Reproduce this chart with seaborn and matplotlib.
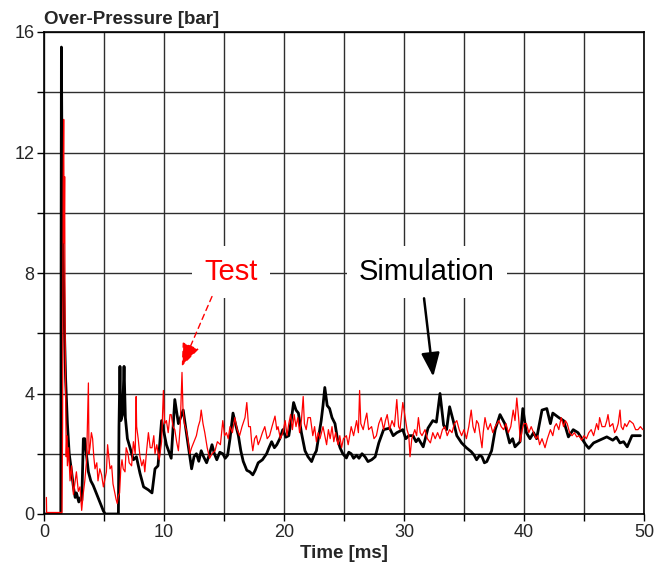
import matplotlib
matplotlib.use("Agg")
import matplotlib.pyplot as plt
import seaborn as sns
import pandas as pd
from matplotlib.ticker import MultipleLocator

# ---------------- data ----------------
sim_t = [0, 1.40, 1.45, 1.50, 1.60, 1.72, 1.80, 1.95, 2.10, 2.30, 2.45, 2.60, 2.70, 2.90, 3.05, 3.15,
         3.28, 3.40, 3.50, 3.70, 3.90, 4.10, 4.30, 4.50, 4.75, 4.95, 5.10, 6.20, 6.25, 6.33, 6.40, 6.55,
         6.67, 6.78, 6.95, 7.17, 7.45, 7.70, 8.00, 8.30, 8.70, 9.00, 9.25, 9.50, 9.80, 10.20, 10.60,
         10.90, 11.20, 11.60, 11.90,
         12.30, 12.50, 12.70, 12.90, 13.10, 13.30, 13.55, 13.80, 14.00, 14.20, 14.40, 14.65, 14.90,
         15.10, 15.30, 15.50, 15.75, 15.95, 16.20, 16.40, 16.60, 16.75, 16.90, 17.15, 17.40, 17.60,
         17.85, 18.20, 18.55, 18.75, 18.97, 19.20, 19.40, 19.65, 19.90, 20.15, 20.40, 20.60, 20.80,
         21.00, 21.20, 21.45, 21.75, 22.00, 22.30, 22.50, 22.70, 22.90, 23.10, 23.25, 23.40, 23.60,
         23.80, 24.00, 24.25, 24.45, 24.67, 24.90, 25.20, 25.40, 25.60, 25.80, 26.05, 26.25, 26.50,
         26.75, 27.00, 27.30, 27.60,
         27.90, 28.30, 28.80, 29.10, 29.40, 29.90, 30.15, 30.40, 30.75, 31.00, 31.20, 31.60, 32.00,
         32.40, 32.70, 33.00, 33.30, 33.55, 33.80, 34.10, 34.40, 34.80, 35.20, 35.60, 35.85, 36.05,
         36.30, 36.50, 36.70, 36.90, 37.30, 37.60, 38.00, 38.40, 38.80, 39.05, 39.25, 39.67, 39.90,
         40.20, 40.50, 40.80, 41.05, 41.50, 41.90, 42.20, 42.40, 42.90, 43.30, 43.70, 44.10, 44.50,
         44.90, 45.15, 45.40, 45.80, 46.30, 46.90, 47.40, 47.70, 48.00, 48.30, 48.60, 49.00, 49.70]
sim_p = [0, 0, 15.5, 11.6, 8.5, 5.8, 4.5, 3.0, 2.0, 1.4, 0.9, 0.55, 0.7, 0.4, 0.55, 0.45,
         2.5, 2.5, 2.1, 1.4, 1.1, 0.95, 0.75, 0.55, 0.3, 0.1, 0, 0, 2.9, 4.9, 3.1, 3.3,
         4.9, 3.2, 2.5, 2.2, 1.8, 1.9, 1.35, 0.9, 0.8, 0.7, 1.5, 1.6, 3.1, 2.3, 1.85,
         3.8, 3.0, 3.45, 2.6,
         1.5, 1.9, 2.0, 1.75, 2.1, 1.9, 1.7, 2.0, 2.3, 2.0, 1.8, 2.05, 2.0,
         1.85, 1.95, 2.5, 3.35, 3.0, 2.6, 2.1, 1.75, 1.6, 1.45, 1.4, 1.3, 1.45,
         1.7, 1.8, 2.0, 2.2, 2.4, 2.2, 2.3, 2.5, 2.8, 2.55, 2.6, 3.1, 3.7,
         3.45, 3.35, 2.7, 2.1, 1.9, 1.74, 1.95, 2.1, 2.6, 3.1, 3.6, 4.2, 3.6,
         3.5, 3.2, 3.0, 2.5, 2.2, 2.0, 1.86, 2.05, 2.0, 1.85, 1.95, 1.85, 2.0,
         1.9, 1.74, 1.8, 1.9,
         2.36, 2.8, 2.85, 2.6, 2.7, 2.8, 2.5, 2.6, 2.6, 2.4, 2.5, 2.23, 2.85,
         3.1, 3.05, 4.0, 2.95, 2.8, 3.56, 3.1, 2.6, 2.36, 2.2, 2.07, 1.95, 1.8,
         1.95, 1.9, 1.7, 1.74, 2.1, 2.8, 3.3, 3.0, 2.36, 2.5, 2.23, 2.4, 3.5,
         2.7, 2.5, 2.7, 2.5, 3.45, 3.5, 3.0, 3.35, 3.2, 3.1, 2.56, 2.8, 2.7,
         2.45, 2.3, 2.18, 2.36, 2.45, 2.56, 2.45, 2.55, 2.36, 2.4, 2.23, 2.6, 2.6]

test_t = [0.20, 0.22, 1.50, 1.55, 1.60, 1.64, 1.68, 1.72, 1.76, 1.80, 1.85, 1.90, 1.95, 2.05, 2.17,
          2.30, 2.45, 2.60, 2.70, 2.86, 3.00, 3.14, 3.25, 3.40, 3.55, 3.70, 3.75, 3.83, 3.95, 4.05,
          4.15, 4.25, 4.40, 4.50, 4.65, 4.80, 4.95, 5.10, 5.20, 5.30, 5.40, 5.50, 5.64, 5.75, 5.90,
          6.00, 6.10, 6.20, 6.30, 6.40, 6.50, 6.60, 6.75, 6.85, 7.00, 7.10, 7.30, 7.45, 7.60, 7.68,
          7.72, 7.85, 8.00, 8.15, 8.30, 8.40, 8.55, 8.70, 8.85, 9.00, 9.15, 9.25, 9.40, 9.60, 9.80,
          9.95, 10.05, 10.20, 10.35, 10.50, 10.60, 10.75, 10.90, 11.05, 11.20, 11.35, 11.50, 11.58,
          11.70, 11.85, 12.00, 12.15, 12.30, 12.50, 12.70, 12.85, 13.00, 13.10, 13.25, 13.40, 13.60,
          13.80, 14.00, 14.25, 14.45, 14.70, 14.80, 14.90, 15.05, 15.20, 15.35, 15.50, 15.70, 15.90,
          16.10, 16.30, 16.50, 16.75, 16.90, 17.05, 17.20, 17.30, 17.40, 17.55, 17.70, 17.85, 18.00,
          18.20, 18.40, 18.60, 18.80, 19.00, 19.25, 19.40, 19.50, 19.70, 19.90, 20.10, 20.25, 20.40,
          20.55, 20.70, 20.85, 21.00, 21.15, 21.30, 21.45, 21.60, 21.70, 21.85, 22.00, 22.20, 22.40,
          22.55, 22.70, 22.85, 23.00, 23.25, 23.40, 23.55, 23.70, 23.85, 24.00, 24.15, 24.30, 24.50,
          24.65, 24.80, 24.95, 25.20, 25.35, 25.60, 25.80, 26.05, 26.20, 26.30, 26.40, 26.60, 26.75,
          26.90, 27.05, 27.30, 27.50, 27.70, 27.90, 28.10, 28.30, 28.45, 28.60, 28.80, 29.00, 29.20,
          29.40, 29.55, 29.67, 29.90, 30.10, 30.25, 30.40, 30.50, 30.65, 30.90, 31.05, 31.20, 31.35,
          31.50, 31.75, 31.95, 32.20, 32.40, 32.60, 32.80, 33.00, 33.20, 33.40, 33.60, 33.80, 34.00,
          34.20, 34.40, 34.60, 34.80, 35.00, 35.20, 35.40, 35.60, 35.75, 35.90, 36.05, 36.20, 36.35,
          36.50, 36.60, 36.75, 36.90, 37.00, 37.20, 37.40, 37.60, 37.90, 38.10, 38.30, 38.50, 38.70,
          38.90, 39.10, 39.25, 39.40, 39.55, 39.70, 39.85, 40.00, 40.20, 40.40, 40.60, 40.80, 41.00,
          41.15, 41.30, 41.50, 41.75, 41.95, 42.20, 42.40, 42.55, 42.70, 42.90, 43.10, 43.30, 43.45,
          43.60, 43.80, 44.00, 44.20, 44.40, 44.60, 44.80, 45.00, 45.20, 45.40, 45.60, 45.80, 46.05,
          46.20, 46.30, 46.50, 46.75, 46.90, 47.00, 47.15, 47.40, 47.55, 47.70, 47.85, 48.00, 48.10,
          48.25, 48.40, 48.55, 48.80, 49.10, 49.30, 49.50, 49.70, 49.90]
test_p = [0.55, 0.05, 0.05, 3.0, 11.0, 13.1, 9.0, 11.2, 6.0, 4.0, 1.9, 2.6, 1.6, 2.2, 1.1,
          1.6, 0.65, 1.1, 1.4, 0.75, 0.9, 0.12, 0.6, 1.1, 1.8, 4.35, 2.0, 2.2, 2.7, 2.5,
          1.9, 1.5, 1.7, 1.1, 1.5, 1.3, 0.9, 1.2, 1.4, 2.3, 1.9, 1.5, 1.6, 1.0, 0.7,
          0.5, 0.35, 0.6, 0.7, 1.5, 1.8, 1.5, 1.4, 2.2, 2.0, 1.7, 1.6, 2.4, 2.0, 3.9,
          2.9, 2.5, 1.9, 1.6, 1.8, 1.4, 2.1, 2.7, 2.2, 2.2, 2.6, 2.0, 2.3, 1.8, 2.4,
          4.1, 3.0, 3.1, 2.7, 3.3, 3.3, 2.9, 2.8, 2.4, 2.1, 2.9, 4.7, 3.5,
          3.0, 2.8, 2.45, 2.0, 2.2, 2.4, 2.6, 2.9, 3.1, 3.45, 3.0, 2.7, 2.2,
          1.85, 2.0, 2.1, 2.4, 2.3, 2.7, 3.1, 2.6, 2.7, 2.5, 2.9, 2.7, 3.2,
          2.8, 2.6, 2.9, 3.2, 3.7, 2.9, 2.9, 2.4, 2.1, 2.5, 2.6, 2.3, 2.45,
          2.7, 2.9, 2.5, 2.6, 2.9, 3.25, 2.8, 2.9, 2.5, 2.7, 3.1, 2.6, 3.0,
          3.3, 2.8, 3.3, 2.9, 3.2, 2.7, 3.1, 3.9, 3.0, 2.8, 3.2, 3.2, 2.6,
          2.9, 2.4, 2.7, 2.5, 2.9, 2.6, 2.3, 2.8, 2.5, 2.9, 2.4, 2.7, 2.3,
          2.6, 2.2, 2.5, 2.6, 2.3, 2.9, 2.6, 3.1, 2.7, 4.1, 3.0, 2.8, 3.1,
          3.35, 2.8, 2.9, 2.5, 2.6, 3.0, 3.2, 2.8, 3.1, 3.3, 2.8, 3.1, 2.9,
          3.8, 2.9, 2.8, 3.7, 3.2, 2.8, 2.6, 1.9, 2.5, 2.8, 2.6, 3.2, 2.7,
          2.6, 2.8, 2.5, 2.36, 2.7, 2.5, 2.7, 2.5, 2.8, 2.9, 2.6, 2.8, 2.7,
          3.0, 3.1, 2.8, 2.6, 2.8, 2.5, 2.9, 3.45, 2.9, 2.7, 3.1, 3.0, 2.6,
          2.2, 2.7, 3.2, 2.9, 2.8, 3.0, 2.7, 2.9, 3.1, 2.9, 2.8, 3.0, 2.7,
          2.9, 3.45, 3.1, 3.85, 3.2, 2.4, 2.8, 3.0, 3.0, 2.7, 2.9, 2.7, 2.5,
          2.6, 2.3, 2.5, 2.2, 2.5, 2.8, 2.6, 2.9, 3.0, 2.8, 3.2, 2.9, 3.1,
          3.0, 2.7, 2.6, 2.7, 2.56, 2.6, 2.45, 2.6, 2.5, 2.7, 2.8, 2.6, 3.0,
          2.8, 3.2, 2.9, 2.9, 3.1, 3.3, 2.9, 3.0, 2.7, 2.8, 3.0, 3.45, 2.9,
          2.8, 3.0, 2.9, 3.1, 3.0, 2.8, 2.8, 2.9, 2.8]

x_ticks = [0, 10, 20, 30, 40, 50]
y_ticks = [0, 4, 8, 12, 16]

sim_df = pd.DataFrame({"t": sim_t, "p": sim_p})
test_df = pd.DataFrame({"t": test_t, "p": test_p})

# ---------------- figure ----------------
sns.set_style("white")
plt.rcParams["font.family"] = ["Liberation Sans", "DejaVu Sans"]

fig = plt.figure(figsize=(6.54, 5.70), dpi=100)
ax = fig.add_axes([44 / 654, 56 / 570, 600 / 654, 482 / 570])

sns.lineplot(data=sim_df, x="t", y="p", color="black", lw=2.0, estimator=None,
             sort=False, ax=ax, zorder=3)
sns.lineplot(data=test_df, x="t", y="p", color="red", lw=0.9, estimator=None,
             sort=False, ax=ax, zorder=4)

ax.set_xlim(0, 50)
ax.set_ylim(0, 16)
ax.set_xticks(x_ticks)
ax.set_yticks(y_ticks)
ax.xaxis.set_minor_locator(MultipleLocator(5))
ax.yaxis.set_minor_locator(MultipleLocator(2))
ax.grid(True, which="both", color="#2e2e2e", lw=1.0)
ax.set_axisbelow(True)
ax.tick_params(which="both", direction="out", length=5, width=1.0, color="black",
               bottom=True, left=True, labelsize=13, pad=2)
for s in ax.spines.values():
    s.set_color("black")
    s.set_linewidth(1.2)

ax.set_xlabel("Time [ms]", fontsize=13.5, fontweight="bold", labelpad=3)
ax.set_ylabel("")
ax.text(0.0, 1.008, "Over-Pressure [bar]", transform=ax.transAxes, ha="left",
        va="bottom", fontsize=13.5, fontweight="bold")

box = dict(boxstyle="square,pad=0.42", fc="white", ec="none")
ax.text(15.6, 8.03, "Test", color="red", fontsize=21, ha="center", va="center",
        bbox=box, zorder=6)
ax.text(31.9, 8.03, "Simulation", color="black", fontsize=21, ha="center",
        va="center", bbox=box, zorder=6)

ax.annotate("", xy=(11.48, 4.9), xytext=(14.0, 7.22),
            arrowprops=dict(arrowstyle="-|>,head_length=0.9,head_width=0.35",
                            color="red", lw=1.0, linestyle=(0, (4, 3)),
                            mutation_scale=16, shrinkA=0, shrinkB=0), zorder=6)
ax.annotate("", xy=(32.44, 4.56), xytext=(31.67, 7.16),
            arrowprops=dict(arrowstyle="-|>,head_length=0.9,head_width=0.35",
                            color="black", lw=1.8,
                            mutation_scale=16, shrinkA=0, shrinkB=0), zorder=6)

fig.savefig("out.png", dpi=100)
